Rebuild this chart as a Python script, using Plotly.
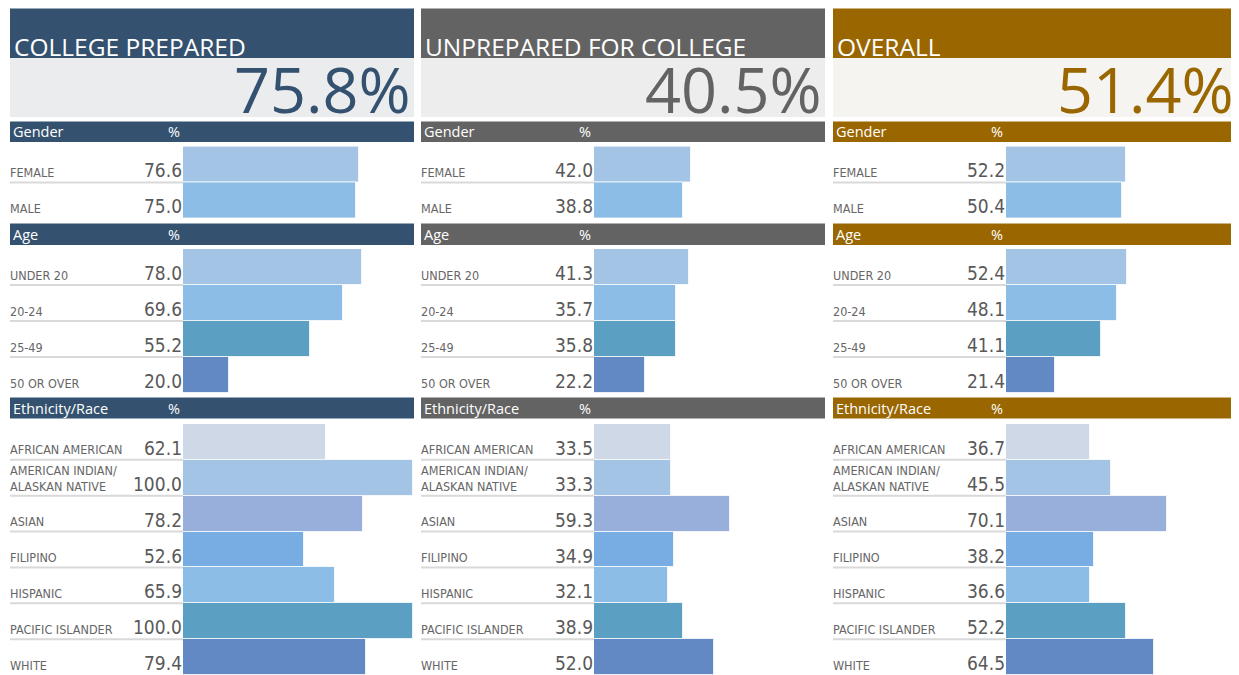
import plotly.graph_objects as go

# ---------------- data ----------------
panel_titles = ["COLLEGE PREPARED", "UNPREPARED FOR COLLEGE", "OVERALL"]
panel_totals = ["75.8%", "40.5%", "51.4%"]
section_names = ["Gender", "Age", "Ethnicity/Race"]

gender_cats = ["FEMALE", "MALE"]
age_cats = ["UNDER 20", "20-24", "25-49", "50 OR OVER"]
eth_cats = ["AFRICAN AMERICAN", "AMERICAN INDIAN/<br>ALASKAN NATIVE", "ASIAN",
            "FILIPINO", "HISPANIC", "PACIFIC ISLANDER", "WHITE"]

prepared_gender = [76.6, 75.0]
prepared_age = [78.0, 69.6, 55.2, 20.0]
prepared_eth = [62.1, 100.0, 78.2, 52.6, 65.9, 100.0, 79.4]

unprepared_gender = [42.0, 38.8]
unprepared_age = [41.3, 35.7, 35.8, 22.2]
unprepared_eth = [33.5, 33.3, 59.3, 34.9, 32.1, 38.9, 52.0]

overall_gender = [52.2, 50.4]
overall_age = [52.4, 48.1, 41.1, 21.4]
overall_eth = [36.7, 45.5, 70.1, 38.2, 36.6, 52.2, 64.5]

# ---------------- styles ----------------
OFF = 8                      # page body margin
W, H = 1239 - OFF, 675 - OFF
panel_dark = ["#34526F", "#636363", "#996600"]
panel_light = ["#EBECEE", "#EDEDED", "#F5F4F0"]
gender_colors = ["#A4C4E6", "#8BBDE6"]
age_colors = ["#A4C4E6", "#8BBDE6", "#5B9FC3", "#6389C5"]
eth_colors = ["#CFD8E6", "#A4C4E6", "#97AFDA", "#78ADE3", "#8BBDE6", "#5B9FC3", "#6389C5"]

panel_left = [10, 421, 833]
panel_width = 404
bar_offset = 173
bar_len = 230

sections = [
    (gender_cats, gender_colors, [prepared_gender, unprepared_gender, overall_gender], (146.5, 218.5), (121.5, 142)),
    (age_cats, age_colors, [prepared_age, unprepared_age, overall_age], (249, 393), (223.5, 245)),
    (eth_cats, eth_colors, [prepared_eth, unprepared_eth, overall_eth], (424, 675), (397.5, 418.5)),
]

LABEL_FONT = "Liberation Sans Narrow, DejaVu Sans Condensed, Arial Narrow, sans-serif"
HEAD_FONT = "Open Sans, DejaVu Sans, sans-serif"


def px(x):
    return (x - OFF) / W


def py(y):
    return 1 - (y - OFF) / H


fig = go.Figure()
shapes = []
annotations = []
layout_axes = {}

n = 0
for p in range(3):
    L = panel_left[p]
    R = L + panel_width
    # title band
    shapes.append(dict(type="rect", xref="paper", yref="paper", x0=px(L), x1=px(R),
                       y0=py(58), y1=py(8.5), fillcolor=panel_dark[p], line_width=0, layer="below"))
    shapes.append(dict(type="rect", xref="paper", yref="paper", x0=px(L), x1=px(R),
                       y0=py(117), y1=py(58), fillcolor=panel_light[p], line_width=0, layer="below"))
    annotations.append(dict(text=panel_titles[p], xref="paper", yref="paper", x=px(L + 2), y=py(46),
                            xanchor="left", yanchor="middle", showarrow=False,
                            font=dict(family=HEAD_FONT, size=24.5, color="white")))
    annotations.append(dict(text=panel_totals[p], xref="paper", yref="paper", x=px(R - 1), y=py(88),
                            xanchor="right", yanchor="middle", showarrow=False,
                            font=dict(family=HEAD_FONT, size=63, color=panel_dark[p])))
    for s, (cats, cols, vals, (ytop, ybot), (htop, hbot)) in enumerate(sections):
        n += 1
        xa = "xaxis" if n == 1 else f"xaxis{n}"
        ya = "yaxis" if n == 1 else f"yaxis{n}"
        xr = "x" if n == 1 else f"x{n}"
        yr = "y" if n == 1 else f"y{n}"
        x0 = L + bar_offset
        layout_axes[xa] = dict(domain=[px(x0), px(x0 + bar_len)], range=[0, 100], visible=False,
                               fixedrange=True, anchor=yr)
        layout_axes[ya] = dict(domain=[max(0, py(ybot)), py(ytop)], type="category",
                               categoryorder="array", categoryarray=cats,
                               range=[len(cats) - 0.5, -0.5], visible=False, fixedrange=True, anchor=xr)
        fig.add_trace(go.Bar(x=vals[p], y=cats, orientation="h", xaxis=xr, yaxis=yr,
                             width=1, marker=dict(color=cols, line=dict(color="rgba(255,255,255,0.75)", width=1)),
                             hoverinfo="skip", showlegend=False))
        # section header band
        shapes.append(dict(type="rect", xref="paper", yref="paper", x0=px(L), x1=px(R),
                           y0=py(hbot), y1=py(htop), fillcolor=panel_dark[p], line_width=0, layer="below"))
        annotations.append(dict(text=section_names[s], xref="paper", yref="paper", x=px(L + 1),
                                y=py((htop + hbot) / 2), xanchor="left", yanchor="middle", showarrow=False,
                                font=dict(family=HEAD_FONT, size=14.5, color="white")))
        annotations.append(dict(text="%", xref="paper", yref="paper", x=px(L + 164),
                                y=py((htop + hbot) / 2), xanchor="center", yanchor="middle", showarrow=False,
                                font=dict(family=HEAD_FONT, size=14.5, color="white")))
        for i, c in enumerate(cats):
            two_line = "<br>" in c
            annotations.append(dict(text=c, xref="paper", yref=yr, x=px(L - 2), y=c, xanchor="left",
                                    yanchor="middle", yshift=-1 if two_line else -8, showarrow=False,
                                    align="left",
                                    font=dict(family=LABEL_FONT, size=12.5, color="#666666")))
            annotations.append(dict(text=f"{vals[p][i]:.1f}", xref="paper", yref=yr, x=px(x0 + 1), y=c,
                                    xanchor="right", yanchor="middle", yshift=-6, showarrow=False,
                                    font=dict(family=LABEL_FONT, size=19, color="#595959")))
            if i < len(cats) - 1:
                shapes.append(dict(type="line", xref="paper", yref=yr, x0=px(L), x1=px(x0),
                                   y0=i + 0.5, y1=i + 0.5, line=dict(color="#D9D9D9", width=2)))

fig.update_layout(width=W, height=H, margin=dict(l=0, r=0, t=0, b=0),
                  paper_bgcolor="white", plot_bgcolor="rgba(0,0,0,0)",
                  bargap=0, shapes=shapes, annotations=annotations, **layout_axes)
fig.write_html("out.html")
